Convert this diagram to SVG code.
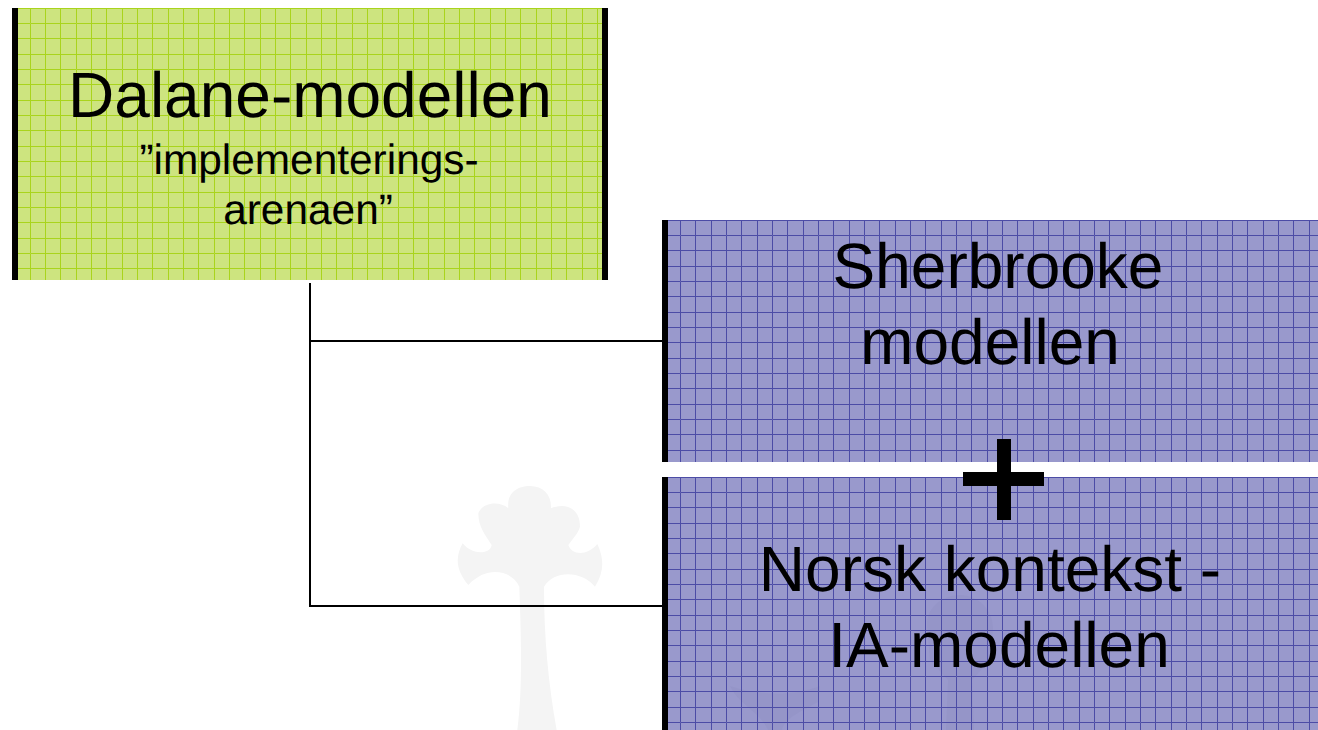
<svg xmlns="http://www.w3.org/2000/svg" width="1318" height="730" viewBox="0 0 1318 730">
<style>
text{font-family:"Liberation Sans",Arial,sans-serif;fill:#000;text-anchor:middle;text-rendering:geometricPrecision}
.t{font-size:64px}.s{font-size:42.4px}
.bar{fill:#000}
.conn{fill:none;stroke:#000;stroke-width:2}
</style>
<defs>
<pattern id="gg" patternUnits="userSpaceOnUse" x="30" y="23" width="46" height="46">
<rect width="46" height="46" fill="#cde47f"/>
<path d="M0 0V46M15 0V46M30 0V46M0 0H46M0 15H46M0 31H46" transform="translate(.5 .5)" fill="none" stroke="#a9d41c" stroke-width="1"/>
</pattern>
<pattern id="bg1" patternUnits="userSpaceOnUse" x="680" y="235" width="46" height="46">
<path d="M0 0V46M15 0V46M31 0V46M0 0H46M0 15H46M0 31H46" transform="translate(.5 .5)" fill="none" stroke="#4c4ca6" stroke-width="1"/>
</pattern>
<pattern id="bg2" patternUnits="userSpaceOnUse" x="680" y="492" width="46" height="46">
<path d="M0 0V46M15 0V46M31 0V46M0 0H46M0 15H46M0 31H46" transform="translate(.5 .5)" fill="none" stroke="#4c4ca6" stroke-width="1"/>
</pattern>
</defs>
<rect width="1318" height="730" fill="#fff"/>
<path id="watermark" transform="translate(440 470) scale(.3333)" fill="#f4f4f4" d="M232 780C245 680 245 560 240 410L238 350C215 300 140 285 85 345C55 310 40 270 68 220C95 255 150 255 155 225C135 195 115 170 115 130C125 100 175 90 205 115C200 70 230 48 270 48C310 48 335 75 333 115C365 100 420 105 420 170C415 190 395 210 385 225C395 255 440 260 472 222C495 270 490 310 465 350C430 305 345 295 312 350C312 500 325 640 350 780Z"/>
<g id="connectors">
<path class="conn" d="M310 283V606H663M310 341H663"/>
</g>
<g id="dalane">
<rect x="17" y="8" width="586" height="272" fill="url(#gg)"/>
<rect class="bar" x="12" y="8" width="6" height="272"/>
<rect class="bar" x="602" y="8" width="6" height="272"/>
<text class="t" x="310" y="117">Dalane-modellen</text>
<text class="s" x="309" y="174">”implementerings-</text>
<text class="s" x="308" y="224">arenaen”</text>
</g>
<g id="sherbrooke">
<rect x="668" y="220" width="650" height="242" fill="#9999cc"/>
<rect x="668" y="220" width="650" height="242" fill="url(#bg1)"/>
<rect class="bar" x="662" y="220" width="6" height="242"/>
<text class="t" x="998" y="288">Sherbrooke</text>
<text class="t" x="990" y="364">modellen</text>
</g>
<g id="norsk">
<rect x="668" y="477" width="650" height="253" fill="#9999cc"/>
<path fill="#9595c8" d="M730 686C760 696 795 696 820 686L818 702C800 712 785 718 782 730H768C760 712 738 704 730 686ZM927 625C927 605 945 595 960 595C978 595 993 610 993 628L990 660L972 680L974 730H946L948 680L930 660Z"/>
<rect x="668" y="477" width="650" height="253" fill="url(#bg2)"/>
<rect class="bar" x="662" y="477" width="6" height="253"/>
<text class="t" x="990" y="591">Norsk kontekst -</text>
<text class="t" x="999" y="667">IA-modellen</text>
</g>
<g id="plus">
<rect class="bar" x="997" y="439" width="14" height="81"/>
<rect class="bar" x="963" y="472" width="81" height="14"/>
</g>
</svg>
